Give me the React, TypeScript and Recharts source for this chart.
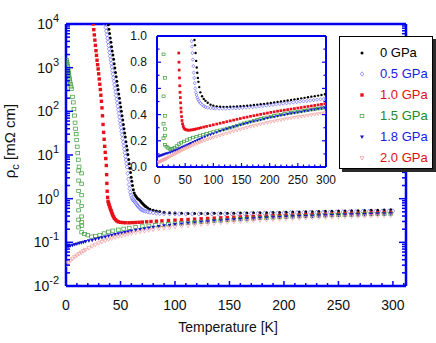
import { ScatterChart, Scatter, XAxis, YAxis, CartesianGrid } from "recharts"

const FONT = '"Liberation Sans", Arial, Helvetica, sans-serif'
const BLUE = "#0000f0"

// [temperature K, rho_c mOhm cm]
const p00: [number, number][] = [
  [38.8, 9550], [39.4, 7590], [40.0, 6030], [40.6, 4790], [41.2, 3800], [41.8, 3020], [42.4, 2400],
  [43.0, 1950], [43.6, 1550], [44.2, 1230], [44.8, 977], [45.4, 776], [46.0, 617], [46.6, 490],
  [47.2, 389], [47.8, 316], [48.4, 251], [49.0, 200], [49.6, 158], [50.2, 126], [50.8, 100],
  [51.4, 79], [52.0, 63], [52.6, 50], [53.2, 40], [53.8, 32], [54.4, 26], [55.0, 20], [55.6, 16],
  [56.2, 13], [56.8, 10.2], [57.4, 7.9], [58.0, 6.3], [58.6, 5.0], [59.2, 4.0], [59.8, 3.1],
  [60.4, 2.5], [61.0, 2.0], [61.8, 1.6], [62.6, 1.35], [63.5, 1.2], [64.5, 1.1], [65.5, 1.02],
  [66.5, 0.97], [67.5, 0.93], [68.5, 0.87], [69.5, 0.81], [70.5, 0.76], [71.5, 0.72], [72.5, 0.68],
  [73.5, 0.65], [75, 0.61], [77, 0.57], [80, 0.54], [83, 0.52], [86, 0.505], [90, 0.49], [95, 0.476],
  [100, 0.468], [106, 0.463], [112, 0.46], [118, 0.459], [124, 0.459], [130, 0.46], [136, 0.461],
  [142, 0.462], [148, 0.464], [154, 0.466], [160, 0.468], [166, 0.47], [172, 0.473], [178, 0.476],
  [184, 0.479], [190, 0.482], [196, 0.485], [202, 0.489], [208, 0.493], [214, 0.497], [220, 0.5],
  [226, 0.504], [232, 0.508], [238, 0.512], [244, 0.516], [250, 0.52], [256, 0.524], [262, 0.528],
  [268, 0.532], [274, 0.537], [280, 0.541], [286, 0.545], [292, 0.55], [298, 0.555],
]

const p05: [number, number][] = [
  [36.0, 10000], [36.5, 8280], [37.0, 6860], [37.5, 5680], [38.0, 4700], [38.5, 3890], [39.0, 3220],
  [39.5, 2670], [40.0, 2210], [40.5, 1830], [41.0, 1510], [41.5, 1250], [42.0, 1040], [42.5, 859],
  [43.0, 711], [43.5, 589], [44.0, 488], [44.5, 404], [45.0, 334], [45.5, 277], [46.0, 229],
  [46.5, 190], [47.0, 157], [47.5, 130], [48.0, 108], [48.5, 89], [49.0, 74], [49.5, 61], [50.0, 51],
  [50.5, 42], [51.0, 35], [51.5, 29], [52.0, 24], [52.5, 19.7], [53.0, 16.3], [53.5, 13.5],
  [54.0, 11.2], [54.5, 9.3], [55.0, 7.7], [55.5, 6.3], [56.0, 5.3], [56.6, 3.8], [57.2, 2.8],
  [57.8, 2.1], [58.4, 1.7], [59.0, 1.4], [59.7, 1.2], [60.5, 1.05], [61.3, 0.96], [62.0, 0.92],
  [62.8, 0.87], [63.6, 0.82], [64.4, 0.77], [65.2, 0.72], [66.0, 0.68], [67, 0.64], [68, 0.6],
  [69, 0.57], [70, 0.55], [71.5, 0.53], [73, 0.515], [75, 0.5], [77, 0.488], [80, 0.475], [83, 0.465],
  [86, 0.458], [90, 0.453], [95, 0.45], [100, 0.448], [104, 0.447], [110, 0.446], [116, 0.446],
  [122, 0.446], [128, 0.447], [134, 0.448], [140, 0.449], [146, 0.45], [152, 0.452], [158, 0.454],
  [164, 0.456], [170, 0.458], [176, 0.46], [182, 0.463], [188, 0.466], [194, 0.469], [200, 0.472],
  [206, 0.475], [212, 0.478], [218, 0.481], [224, 0.484], [230, 0.487], [236, 0.49], [242, 0.493],
  [248, 0.496], [254, 0.499], [260, 0.502], [266, 0.505], [272, 0.508], [278, 0.511], [284, 0.514],
  [290, 0.517], [296, 0.52], [300, 0.522],
]

const p10: [number, number][] = [
  [25.0, 10000], [25.5, 7410], [26.0, 5620], [26.5, 4270], [27.0, 3240], [27.5, 2450], [28.0, 1910],
  [28.5, 1480], [29.0, 1170], [29.5, 933], [30.0, 724], [30.5, 550], [31.0, 417], [31.5, 316],
  [32.0, 234], [32.5, 170], [33.0, 120], [33.5, 79], [34.0, 50], [34.5, 33], [35.0, 22.9],
  [35.5, 15.8], [36.0, 11.5], [36.5, 8.3], [37.0, 5.75], [37.3, 3.55], [37.5, 2.24], [37.8, 1.48],
  [38.2, 1.07], [38.6, 0.87], [39.0, 0.8], [39.4, 0.74], [39.9, 0.68], [40.4, 0.62], [40.9, 0.57],
  [41.4, 0.53], [41.9, 0.49], [42.4, 0.45], [42.9, 0.42], [43.6, 0.385], [44.4, 0.355], [45.4, 0.33],
  [46.6, 0.31], [48, 0.295], [50, 0.287], [52.5, 0.283], [55, 0.281], [58, 0.281], [61, 0.283],
  [64, 0.285], [67, 0.288], [70, 0.291], [74, 0.295], [78, 0.3], [83, 0.305], [88, 0.31], [94, 0.316],
  [100, 0.322], [106, 0.328], [112, 0.334], [118, 0.34], [124, 0.346], [130, 0.352], [136, 0.358],
  [142, 0.364], [148, 0.37], [154, 0.376], [160, 0.381], [166, 0.387], [172, 0.392], [178, 0.397],
  [184, 0.402], [190, 0.407], [196, 0.412], [202, 0.417], [208, 0.421], [214, 0.426], [220, 0.43],
  [226, 0.434], [232, 0.438], [238, 0.442], [244, 0.446], [250, 0.45], [256, 0.454], [262, 0.458],
  [268, 0.462], [274, 0.466], [280, 0.47], [286, 0.474], [292, 0.478], [298, 0.482],
]

const p15: [number, number][] = [
  [0.5, 1500], [0.8, 1350], [1.1, 1200], [1.4, 1080], [1.7, 950], [2.0, 850], [2.3, 760], [2.6, 680],
  [2.9, 600], [3.2, 540], [3.6, 480], [4.0, 420], [4.5, 370], [5.0, 330], [6.0, 215], [6.7, 160],
  [7.3, 112], [7.8, 80], [8.3, 55], [8.8, 40], [9.3, 30], [9.8, 22], [10.3, 15.5], [10.8, 11],
  [11.3, 7.8], [12.0, 5.4],
  [11.6, 4.4], [11.6, 2.6], [11.6, 1.5], [11.6, 0.86], [11.6, 0.54], [11.6, 0.33], [11.6, 0.22],
  [14.4, 3.8], [14.4, 2.2], [14.4, 1.2], [14.4, 0.68], [14.4, 0.39], [14.4, 0.29], [14.4, 0.24], [14.4, 0.17],
  [17, 0.155], [20, 0.145], [23.5, 0.135], [27, 0.14], [31, 0.148], [35, 0.16], [39, 0.175], [43, 0.185],
  [48, 0.195], [53, 0.205], [58, 0.215], [64, 0.225], [70, 0.232], [76, 0.24], [82, 0.247], [88, 0.254],
  [94, 0.26], [100, 0.267], [106, 0.274], [112, 0.28], [118, 0.287], [124, 0.294], [130, 0.3],
  [136, 0.308], [142, 0.316], [148, 0.325], [154, 0.333], [160, 0.34], [166, 0.347], [172, 0.354],
  [178, 0.36], [184, 0.367], [190, 0.373], [196, 0.379], [202, 0.385], [208, 0.39], [214, 0.395],
  [220, 0.4], [226, 0.405], [232, 0.41], [238, 0.414], [244, 0.418], [250, 0.422], [256, 0.426],
  [262, 0.43], [268, 0.434], [274, 0.438], [280, 0.442], [286, 0.446], [292, 0.45], [298, 0.453],
]

const p18: [number, number][] = [
  [0.5, 0.078], [2, 0.08], [4, 0.083], [6, 0.086], [8, 0.089], [10, 0.092], [12, 0.095], [14, 0.098],
  [16, 0.101], [18, 0.104], [21, 0.108], [24, 0.112], [27, 0.117], [30, 0.122], [33, 0.127], [36, 0.133],
  [39, 0.139], [42, 0.145], [45, 0.151], [48, 0.157], [51, 0.163], [54, 0.169], [57, 0.175], [60, 0.181],
  [64, 0.189], [68, 0.197], [72, 0.205], [76, 0.213], [80, 0.221], [85, 0.23], [90, 0.239], [95, 0.247],
  [100, 0.255], [106, 0.264], [112, 0.273], [118, 0.282], [124, 0.29], [130, 0.298], [136, 0.306],
  [142, 0.314], [148, 0.321], [154, 0.328], [160, 0.335], [166, 0.342], [172, 0.348], [178, 0.354],
  [184, 0.36], [190, 0.366], [196, 0.372], [202, 0.378], [208, 0.383], [214, 0.388], [220, 0.393],
  [226, 0.398], [232, 0.403], [238, 0.408], [244, 0.412], [250, 0.417], [256, 0.421], [262, 0.426],
  [268, 0.43], [274, 0.435], [280, 0.439], [286, 0.443], [292, 0.447], [298, 0.451],
]

const p20: [number, number][] = [
  [0.5, 0.031], [2, 0.034], [4, 0.038], [6, 0.042], [8, 0.046], [10, 0.05], [12, 0.054], [14, 0.058],
  [16, 0.063], [18, 0.067], [21, 0.074], [24, 0.081], [27, 0.088], [30, 0.095], [33, 0.102], [36, 0.109],
  [39, 0.116], [42, 0.123], [45, 0.13], [48, 0.136], [51, 0.142], [54, 0.148], [57, 0.154], [60, 0.16],
  [64, 0.167], [68, 0.174], [72, 0.181], [76, 0.188], [80, 0.195], [85, 0.203], [90, 0.211], [95, 0.218],
  [100, 0.225], [106, 0.233], [112, 0.241], [118, 0.249], [124, 0.257], [130, 0.265], [136, 0.273],
  [142, 0.28], [148, 0.287], [154, 0.294], [160, 0.301], [166, 0.308], [172, 0.314], [178, 0.32],
  [184, 0.326], [190, 0.332], [196, 0.338], [202, 0.344], [208, 0.349], [214, 0.354], [220, 0.359],
  [226, 0.364], [232, 0.369], [238, 0.373], [244, 0.377], [250, 0.381], [256, 0.385], [262, 0.389],
  [268, 0.393], [274, 0.397], [280, 0.401], [286, 0.405], [292, 0.409], [298, 0.413],
]

const pressures = ["0 GPa", "0.5 GPa", "1.0 GPa", "1.5 GPa", "1.8 GPa", "2.0 GPa"]
const labelColors = ["#000000", "#1a1ae8", "#e01010", "#238a23", "#1a1ae8", "#e01010"]

const xMajor = [0, 50, 100, 150, 200, 250, 300]
const yDecades = [0.01, 0.1, 1, 10, 100, 1000, 10000]
const insetYMajor = [0, 0.2, 0.4, 0.6, 0.8, 1.0]

const xTicks = Array.from({ length: 32 }, (_, i) => i * 10)
const insetXTicks = Array.from({ length: 31 }, (_, i) => i * 10)
const insetYTicks = Array.from({ length: 11 }, (_, i) => i / 10)
const yTicks = yDecades.flatMap((d, i) =>
  i === yDecades.length - 1 ? [d] : [1, 2, 3, 4, 5, 6, 7, 8, 9].map((m) => +(d * m).toPrecision(3))
)

const toPts = (a: [number, number][]) => a.map(([t, r]) => ({ t, r }))

// marker shapes
const mk = {
  dot: (s: number) => (p: any) => <circle cx={p.cx} cy={p.cy} r={1.5 * s} fill="#000" />,
  diamond: (s: number) => (p: any) => (
    <polygon
      points={`${p.cx},${p.cy - 2.2 * s} ${p.cx + 1.8 * s},${p.cy} ${p.cx},${p.cy + 2.2 * s} ${p.cx - 1.8 * s},${p.cy}`}
      fill="none" stroke="#7070ff" strokeWidth={0.7}
    />
  ),
  square: (s: number) => (p: any) => (
    <rect x={p.cx - 1.7 * s} y={p.cy - 1.7 * s} width={3.4 * s} height={3.4 * s} fill="#e8101a" />
  ),
  openSquare: (s: number) => (p: any) => (
    <rect x={p.cx - 1.9 * s} y={p.cy - 1.6 * s} width={3.8 * s} height={3.2 * s} fill="none" stroke="#3a9a3a" strokeWidth={0.7} />
  ),
  tri: (s: number) => (p: any) => (
    <polygon points={`${p.cx - 2 * s},${p.cy - 1.5 * s} ${p.cx + 2 * s},${p.cy - 1.5 * s} ${p.cx},${p.cy + 2 * s}`} fill="#1414d0" />
  ),
  openTri: (s: number) => (p: any) => (
    <polygon points={`${p.cx - 2 * s},${p.cy - 1.5 * s} ${p.cx + 2 * s},${p.cy - 1.5 * s} ${p.cx},${p.cy + 2 * s}`} fill="none" stroke="#f29a9a" strokeWidth={0.7} />
  ),
}

const series = [
  { name: pressures[0], data: p00, shape: mk.dot },
  { name: pressures[1], data: p05, shape: mk.diamond },
  { name: pressures[2], data: p10, shape: mk.square },
  { name: pressures[3], data: p15, shape: mk.openSquare },
  { name: pressures[4], data: p18, shape: mk.tri },
  { name: pressures[5], data: p20, shape: mk.openTri },
]

const isDecade = (v: number) => Math.abs(Math.log10(v) - Math.round(Math.log10(v))) < 1e-6
const axisLine = { stroke: BLUE, strokeWidth: 2.5 }
const insetAxisLine = { stroke: BLUE, strokeWidth: 2 }

const txt = { fontFamily: FONT, fill: "#111" }

function mainBottomTick({ x, y, payload }: any) {
  const v = payload.value
  const major = xMajor.includes(v)
  return (
    <g>
      <line x1={x} y1={y} x2={x} y2={y - (major ? 5 : 3)} stroke={BLUE} strokeWidth={1.5} />
      {major && (
        <text x={x} y={y + 19} dy="0.35em" textAnchor="middle" fontSize={14} {...txt}>{v}</text>
      )}
    </g>
  )
}

function mainTopTick({ x, y, payload }: any) {
  const major = xMajor.includes(payload.value)
  return <line x1={x} y1={y} x2={x} y2={y + (major ? 5 : 3)} stroke={BLUE} strokeWidth={1.5} />
}

function mainLeftTick({ x, y, payload }: any) {
  const v = payload.value
  const major = isDecade(v)
  return (
    <g>
      <line x1={x} y1={y} x2={x + (major ? 7 : 4)} y2={y} stroke={BLUE} strokeWidth={1.5} />
      {major && (
        <text x={x - 7} y={y} dy="0.35em" textAnchor="end" fontSize={14} {...txt}>
          10<tspan dy={-7} fontSize={11}>{Math.round(Math.log10(v))}</tspan>
        </text>
      )}
    </g>
  )
}

function mainRightTick({ x, y, payload }: any) {
  const major = isDecade(payload.value)
  return <line x1={x} y1={y} x2={x - (major ? 7 : 4)} y2={y} stroke={BLUE} strokeWidth={1.5} />
}

function insetBottomTick({ x, y, payload }: any) {
  const v = payload.value
  const major = v % 50 === 0
  return (
    <g>
      <line x1={x} y1={y} x2={x} y2={y - (major ? 4 : 2.5)} stroke={BLUE} strokeWidth={1.2} />
      {major && (
        <text x={x} y={y + 13} dy="0.35em" textAnchor="middle" fontSize={12} {...txt}>{v}</text>
      )}
    </g>
  )
}

function insetTopTick({ x, y, payload }: any) {
  const major = payload.value % 50 === 0
  return <line x1={x} y1={y} x2={x} y2={y + (major ? 4 : 2.5)} stroke={BLUE} strokeWidth={1.2} />
}

function insetLeftTick({ x, y, payload }: any) {
  const v = payload.value
  const major = insetYMajor.some((m) => Math.abs(m - v) < 1e-6)
  return (
    <g>
      <line x1={x} y1={y} x2={x + (major ? 4 : 2.5)} y2={y} stroke={BLUE} strokeWidth={1.2} />
      {major && (
        <text x={x - 10} y={y} dy="0.35em" textAnchor="end" fontSize={12} {...txt}>{v.toFixed(1)}</text>
      )}
    </g>
  )
}

function insetRightTick({ x, y, payload }: any) {
  const major = insetYMajor.some((m) => Math.abs(m - payload.value) < 1e-6)
  return <line x1={x} y1={y} x2={x - (major ? 4 : 2.5)} y2={y} stroke={BLUE} strokeWidth={1.2} />
}

const xTitle = () => (
  <text x={228} y={332} textAnchor="middle" fontSize={14} {...txt}>Temperature [K]</text>
)

const yTitle = () => (
  <text x={15} y={141} transform="rotate(-90 15 141)" textAnchor="middle" fontSize={15} {...txt}>
    ρ<tspan dy={4} fontSize={11}>c</tspan><tspan dy={-4}> [mΩ cm]</tspan>
  </text>
)

function LegendBox() {
  return (
    <div
      style={{
        position: "absolute", left: 339, top: 36, width: 92, height: 131,
        border: "1px solid #000", boxShadow: "3px 3px 0 #2a2a2a", background: "#fff",
        fontFamily: FONT, fontSize: 13,
      }}
    >
      {series.map((s, i) => {
        const Shape = s.shape(1)
        return (
          <div key={s.name} style={{ position: "absolute", left: 0, top: 8 + i * 20.9, height: 16, width: 92 }}>
            <svg width={30} height={16} style={{ position: "absolute", left: 7, top: 0 }}>
              {Shape({ cx: 15, cy: 8 })}
            </svg>
            <span style={{ position: "absolute", left: 40, top: 0, lineHeight: "16px", color: labelColors[i], whiteSpace: "nowrap" }}>
              {s.name}
            </span>
          </div>
        )
      })}
    </div>
  )
}

export default function App() {
  return (
    <div style={{ position: "absolute", left: 0, top: 0, width: 436, height: 343, background: "#fff" }}>
      <ScatterChart width={436} height={343} margin={{ top: 23, right: 29, bottom: 7, left: 0 }}>
        <XAxis
          xAxisId="b" type="number" dataKey="t" domain={[0, 312]} allowDataOverflow
          ticks={xTicks} interval={0} tickSize={0} tickMargin={0} tickLine={false}
          axisLine={axisLine} tick={mainBottomTick} height={50} label={xTitle}
        />
        <XAxis
          xAxisId="t" orientation="top" type="number" domain={[0, 312]} allowDataOverflow
          ticks={xTicks} interval={0} tickSize={0} tickMargin={0} tickLine={false}
          axisLine={axisLine} tick={mainTopTick} height={1}
        />
        <YAxis
          yAxisId="l" type="number" dataKey="r" scale="log" domain={[0.01, 10000]} allowDataOverflow
          ticks={yTicks} interval={0} tickSize={0} tickMargin={0} tickLine={false}
          axisLine={axisLine} tick={mainLeftTick} width={66} label={yTitle}
        />
        <YAxis
          yAxisId="r" orientation="right" type="number" scale="log" domain={[0.01, 10000]} allowDataOverflow
          ticks={yTicks} interval={0} tickSize={0} tickMargin={0} tickLine={false}
          axisLine={axisLine} tick={mainRightTick} width={1}
        />
        {series.map((s) => (
          <Scatter
            key={s.name} name={s.name} xAxisId="b" yAxisId="l" data={toPts(s.data)}
            shape={s.shape(1)} isAnimationActive={false}
          />
        ))}
      </ScatterChart>

      <div style={{ position: "absolute", left: 110, top: 26, width: 226, height: 165 }}>
        <ScatterChart width={226} height={165} margin={{ top: 9, right: 9, bottom: 0, left: 0 }}>
          <CartesianGrid xAxisId="b" yAxisId="l" horizontal={false} vertical={false} fill="#fff" />
          <XAxis
            xAxisId="b" type="number" dataKey="t" domain={[0, 300]} allowDataOverflow
            ticks={insetXTicks} interval={0} tickSize={0} tickMargin={0} tickLine={false}
            axisLine={insetAxisLine} tick={insetBottomTick} height={24}
          />
          <XAxis
            xAxisId="t" orientation="top" type="number" domain={[0, 300]} allowDataOverflow
            ticks={insetXTicks} interval={0} tickSize={0} tickMargin={0} tickLine={false}
            axisLine={insetAxisLine} tick={insetTopTick} height={1}
          />
          <YAxis
            yAxisId="l" type="number" dataKey="r" domain={[0, 1]} allowDataOverflow
            ticks={insetYTicks} interval={0} tickSize={0} tickMargin={0} tickLine={false}
            axisLine={insetAxisLine} tick={insetLeftTick} width={47}
          />
          <YAxis
            yAxisId="r" orientation="right" type="number" domain={[0, 1]} allowDataOverflow
            ticks={insetYTicks} interval={0} tickSize={0} tickMargin={0} tickLine={false}
            axisLine={insetAxisLine} tick={insetRightTick} width={1}
          />
          {series.map((s) => (
            <Scatter
              key={s.name} name={s.name} xAxisId="b" yAxisId="l" data={toPts(s.data)}
              shape={s.shape(0.8)} isAnimationActive={false}
            />
          ))}
        </ScatterChart>
      </div>

      <LegendBox />
    </div>
  )
}
